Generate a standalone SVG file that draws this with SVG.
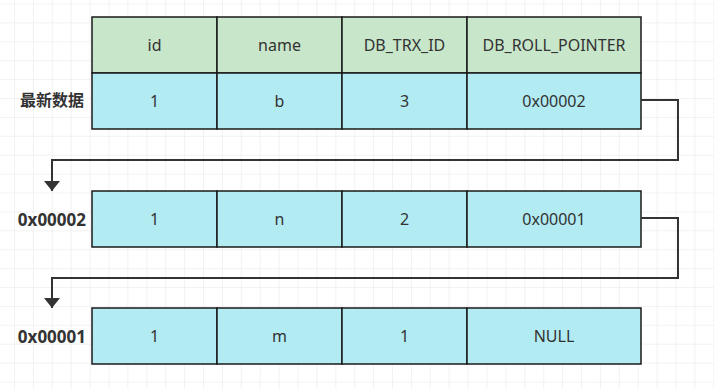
<svg xmlns="http://www.w3.org/2000/svg" width="714" height="389" viewBox="0 0 714 389">
<style>
.h{fill:#c8e6c9;stroke:#1a1a1a;stroke-width:1.5}
.c{fill:#b2ebf2;stroke:#1a1a1a;stroke-width:1.5}
.t{font-family:"Noto Sans","Open Sans","Liberation Sans",sans-serif;font-size:16px;fill:#333;text-anchor:middle;dominant-baseline:central}
.l{font-family:"Noto Sans","Noto Sans CJK SC","Liberation Sans",sans-serif;font-size:16px;font-weight:bold;fill:#333;text-anchor:end;dominant-baseline:central}
.x{font-size:17px}
.e{fill:none;stroke:#333;stroke-width:2}
</style>
<defs>
<pattern id="grid" x="14" y="3.5" width="18.9" height="18.9" patternUnits="userSpaceOnUse">
<path d="M0 0H18.9M0 0V18.9" fill="none" stroke="#e6e6e6" stroke-width="1"/>
</pattern>
<marker id="arr" viewBox="0 0 10 16" refX="10" refY="8" markerWidth="10" markerHeight="16" markerUnits="userSpaceOnUse" orient="auto">
<path d="M0 0L10 8L0 16Z" fill="#333"/>
</marker>
</defs>
<rect width="714" height="389" fill="#fff"/>
<rect width="714" height="389" fill="url(#grid)"/>
<g id="row1">
<rect class="h" x="92" y="17" width="125" height="56"/>
<rect class="h" x="217" y="17" width="125" height="56"/>
<rect class="h" x="342" y="17" width="125" height="56"/>
<rect class="h" x="467" y="17" width="174" height="56"/>
<rect class="c" x="92" y="73" width="125" height="56"/>
<rect class="c" x="217" y="73" width="125" height="56"/>
<rect class="c" x="342" y="73" width="125" height="56"/>
<rect class="c" x="467" y="73" width="174" height="56"/>
<text class="t" x="154.5" y="45">id</text>
<text class="t" x="279.5" y="45">name</text>
<text class="t" x="404.5" y="45">DB_TRX_ID</text>
<text class="t" x="554" y="45">DB_ROLL_POINTER</text>
<text class="t" x="154.5" y="101">1</text>
<text class="t" x="279.5" y="101">b</text>
<text class="t" x="404.5" y="101">3</text>
<text class="t" x="554" y="101">0x00002</text>
<text class="l" x="84" y="100">最新数据</text>
</g>
<g id="row2">
<rect class="c" x="92" y="191" width="125" height="56"/>
<rect class="c" x="217" y="191" width="125" height="56"/>
<rect class="c" x="342" y="191" width="125" height="56"/>
<rect class="c" x="467" y="191" width="174" height="56"/>
<text class="t" x="154.5" y="219">1</text>
<text class="t" x="279.5" y="219">n</text>
<text class="t" x="404.5" y="219">2</text>
<text class="t" x="554" y="219">0x00001</text>
<text class="l x" x="86" y="219">0x00002</text>
</g>
<g id="row3">
<rect class="c" x="92" y="308" width="125" height="56"/>
<rect class="c" x="217" y="308" width="125" height="56"/>
<rect class="c" x="342" y="308" width="125" height="56"/>
<rect class="c" x="467" y="308" width="174" height="56"/>
<text class="t" x="154.5" y="336">1</text>
<text class="t" x="279.5" y="336">m</text>
<text class="t" x="404.5" y="336">1</text>
<text class="t" x="554" y="336">NULL</text>
<text class="l x" x="86" y="336">0x00001</text>
</g>
<g id="connectors">
<path class="e" d="M641 100H678V160H52V191" marker-end="url(#arr)"/>
<path class="e" d="M641 218H678V278H52V308" marker-end="url(#arr)"/>
</g>
</svg>
